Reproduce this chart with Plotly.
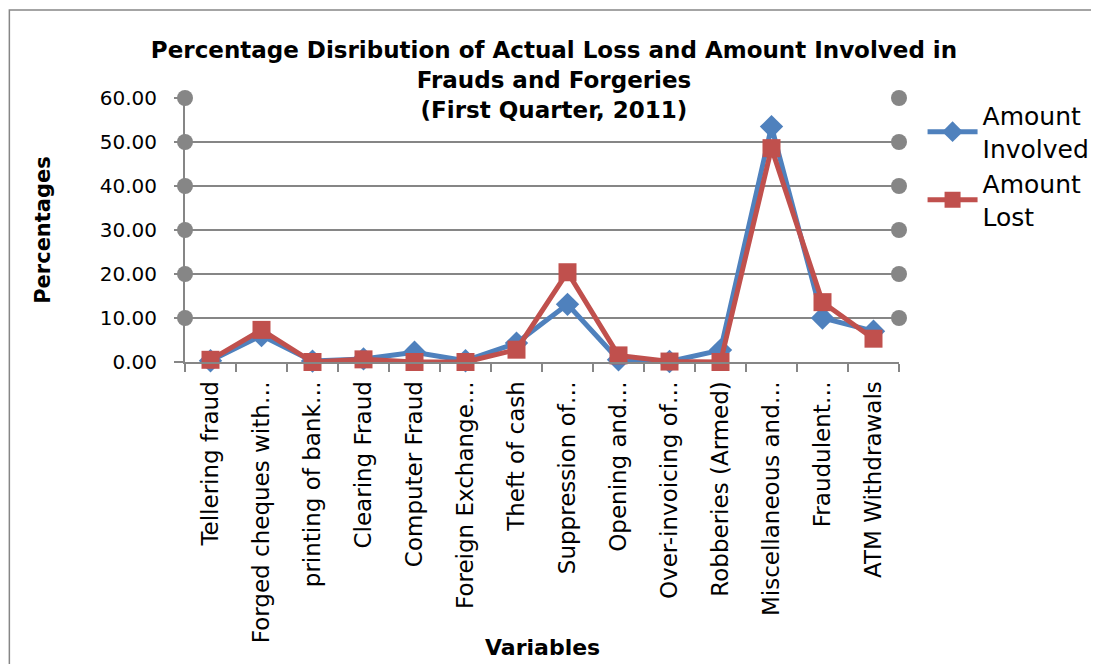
import plotly.graph_objs as go

categories = [
    'Tellering fraud', 'Forged cheques with\u2026', 'printing of bank\u2026',
    'Clearing Fraud', 'Computer Fraud', 'Foreign Exchange\u2026', 'Theft of cash',
    'Suppression of\u2026', 'Opening and\u2026', 'Over-invoicing of\u2026',
    'Robberies (Armed)', 'Miscellaneous and\u2026', 'Fraudulent\u2026', 'ATM Withdrawals'
]
amount_involved = [0.3, 6.0, 0.2, 0.7, 2.2, 0.3, 4.3, 13.1, 0.5, 0.1, 2.7, 53.5, 10.0, 7.0]
amount_lost = [0.5, 7.3, 0.0, 0.6, 0.0, 0.0, 2.8, 20.4, 1.5, 0.1, 0.0, 48.6, 13.6, 5.3]
y_ticks = [0, 10, 20, 30, 40, 50, 60]

BLUE = '#4F81BD'
RED = '#C0504D'
GREY = '#868686'
FONT = 'DejaVu Sans, Verdana, sans-serif'

data = [
    go.Scatter(
        name='Amount<br>Involved',
        x=categories,
        y=amount_involved,
        mode='lines+markers',
        line=dict(color=BLUE, width=5),
        marker=dict(symbol='diamond', size=18, color=BLUE),
        cliponaxis=False
    ),
    go.Scatter(
        name='Amount<br>Lost',
        x=categories,
        y=amount_lost,
        mode='lines+markers',
        line=dict(color=RED, width=5),
        marker=dict(symbol='square', size=18, color=RED),
        cliponaxis=False
    ),
]

# round caps on both ends of each gridline (paper refs so they are not clipped)
y_max = y_ticks[-1]
shapes = []
for gv in y_ticks[1:]:
    for side in [0, 1]:
        shapes.append(dict(
            type='circle', xref='paper', yref='paper',
            xsizemode='pixel', ysizemode='pixel',
            xanchor=side, yanchor=gv / y_max,
            x0=-8, x1=8, y0=-8, y1=8,
            fillcolor=GREY, line=dict(width=0), layer='above'
        ))
# outer frame of the chart
shapes.append(dict(
    type='rect', xref='paper', yref='paper',
    x0=-0.246, x1=1.3, y0=-1.3, y1=1.333,
    line=dict(color=GREY, width=1.5), layer='below'
))

layout = go.Layout(
    width=1099,
    height=664,
    margin=dict(l=177, r=205, t=90, b=310),
    paper_bgcolor='white',
    plot_bgcolor='white',
    title=dict(
        text='Percentage Disribution of Actual Loss and Amount Involved in<br>'
             'Frauds and Forgeries<br>(First Quarter, 2011)',
        font=dict(family=FONT, size=23, color='black', weight='bold'),
        x=546 / 1099, xanchor='center',
        y=1 - 50 / 664, yanchor='top', yref='container'
    ),
    xaxis=dict(
        type='category',
        range=[-0.5, len(categories) - 0.5],
        tickson='boundaries',
        ticks='outside',
        ticklen=8,
        tickwidth=1.5,
        tickcolor=GREY,
        tickangle=-90,
        ticklabelstandoff=8,
        showline=True,
        linecolor=GREY,
        linewidth=2,
        showgrid=False,
        zeroline=False,
        tickfont=dict(family=FONT, size=23, color='black'),
        automargin=False
    ),
    yaxis=dict(
        range=[0, y_max],
        tickvals=y_ticks,
        ticktext=['%.2f' % v for v in y_ticks],
        ticks='outside',
        ticklen=9,
        tickwidth=1.5,
        tickcolor=GREY,
        ticklabelstandoff=13,
        showline=True,
        linecolor=GREY,
        linewidth=2,
        gridcolor=GREY,
        gridwidth=2,
        zeroline=False,
        tickfont=dict(family=FONT, size=20, color='black'),
        title=dict(text='Percentages', standoff=43,
                   font=dict(family=FONT, size=21, color='black', weight='bold')),
        automargin=False
    ),
    annotations=[
        dict(
            text='Variables', xref='paper', yref='paper',
            x=0.5, y=-286 / 264, xanchor='center', yanchor='middle',
            showarrow=False,
            font=dict(family=FONT, size=22, color='black', weight='bold')
        )
    ],
    showlegend=True,
    legend=dict(
        x=1.033, y=1.02, xanchor='left', yanchor='top',
        font=dict(family=FONT, size=25, color='black'),
        itemwidth=50,
        bgcolor='rgba(0,0,0,0)',
        tracegroupgap=0
    ),
    shapes=shapes
)

fig = go.Figure(data=data, layout=layout)
fig.write_html('out.html')
